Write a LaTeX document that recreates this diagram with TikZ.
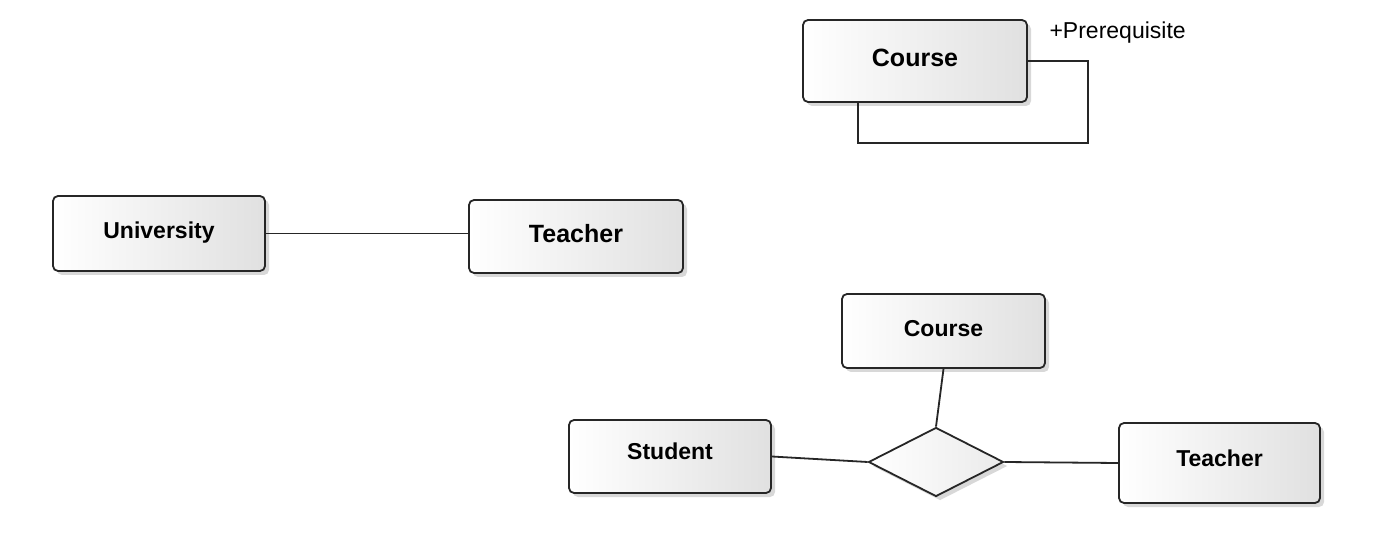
\documentclass[tikz,border=0pt]{standalone}
\usepackage{fontspec}
\setmainfont{Liberation Sans}
\usepackage{tikz}
\tikzset{>=latex}
\usetikzlibrary{calc,shadows,shapes.geometric,positioning}
\tikzset{
  entity/.style={draw=black!85, line width=1.8pt, rounded corners=5pt,
    left color=white, right color=black!12, inner sep=0pt, text depth=6pt,
    drop shadow={shadow xshift=4pt, shadow yshift=-4pt, opacity=0.25, fill=black!60},
    font=\bfseries\fontsize{23}{27}\selectfont},
  relation/.style={diamond, draw=black!85, line width=1.8pt, inner sep=0pt,
    left color=white, right color=black!8,
    drop shadow={shadow xshift=4pt, shadow yshift=-4pt, opacity=0.25, fill=black!60}},
  link/.style={draw=black!85, line width=1.8pt}
}
\begin{document}
\begin{tikzpicture}[x=1pt,y=-1pt]
  \useasboundingbox[fill=white] (0,0) rectangle (1381,534);
  \node[entity, minimum width=224pt, minimum height=82pt, font=\bfseries\fontsize{25}{29}\selectfont] (course1) at (915,61) {Course};
  \node[entity, minimum width=212pt, minimum height=75pt] (univ) at (159,233.5) {University};
  \node[entity, minimum width=214pt, minimum height=73pt, font=\bfseries\fontsize{25}{29}\selectfont] (teacher1) at (576,236.5) {Teacher};
  \node[entity, minimum width=203pt, minimum height=74pt] (course2) at (943.5,331) {Course};
  \node[entity, minimum width=202pt, minimum height=73pt, text depth=10pt] (student) at (670,456.5) {Student};
  \node[entity, minimum width=201pt, minimum height=80pt, text depth=10pt] (teacher2) at (1219.5,463) {Teacher};
  \node[relation, minimum width=135pt, minimum height=69pt] (rel) at (936,462) {};
  \coordinate (loopR) at (1088,143);
  \draw[link] (course1.east) -| (loopR) -| ([xshift=56pt]course1.south west);
  \node[anchor=west, font=\fontsize{23}{27}\selectfont] (prereq) at (1046,33) {+Prerequisite};
  \draw[link] (univ.east) -- (univ.east -| teacher1.west);
  \draw[link] (course2.south) -- (rel.north);
  \draw[link] (student.east) -- (rel.west);
  \draw[link] (rel.east) -- (teacher2.west);
\end{tikzpicture}
\end{document}
